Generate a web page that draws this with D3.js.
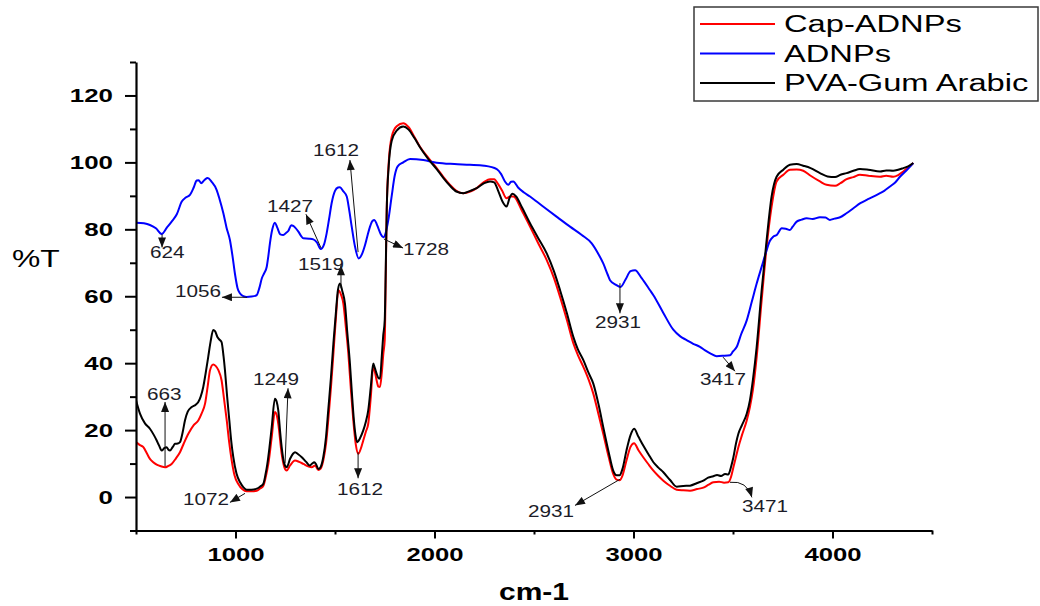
<!DOCTYPE html>
<html>
<head>
<meta charset="utf-8">
<script src="https://cdn.jsdelivr.net/npm/d3@7"></script>
<style>
  body { margin: 0; background: #fff; }
  svg { display: block; }
</style>
</head>
<body>
<script>
// ---------------- DATA ----------------
const seriesNames = ["Cap-ADNPs", "ADNPs", "PVA-Gum Arabic"];
const seriesColors = ["#ff0000", "#0000ff", "#000000"];

const xTickMajor = [1000, 2000, 3000, 4000];
const xTickMinor = [500, 1500, 2500, 3500, 4500];
const yTickMajor = [0, 20, 40, 60, 80, 100, 120];
const yTickMinor = [-10, 10, 30, 50, 70, 90, 110, 130];

// ADNPs (blue) [wavenumber, %T]
const adnps = [[500,82.0],[540,81.8],[570,81.3],[600,80.3],[629,78.6],[655,80.5],[679,82.3],[705,84.5],[730,88.3],[750,89.5],[771,90.3],[790,92.5],[805,94.6],[815,94.7],[827,93.8],[845,94.8],[860,95.3],[880,94.2],[905,91.8],[920,89],[939,84.8],[955,80.5],[972,76.8],[985,72],[997,66.8],[1010,62.5],[1023,60.8],[1040,60],[1056,59.8],[1080,59.9],[1106,60.3],[1120,62.5],[1132,65.3],[1145,67],[1157,68.8],[1165,72],[1173,75.8],[1185,80],[1198,82.0],[1210,80.5],[1225,78.5],[1240,78.3],[1255,79],[1265,79.5],[1280,81.2],[1290,81.0],[1300,80.5],[1316,79.3],[1330,78],[1341,77.3],[1370,77.2],[1391,77.0],[1410,76],[1428,74.1],[1445,75.5],[1458,78.8],[1470,83],[1483,87.8],[1500,91.5],[1515,92.5],[1525,92.6],[1540,91.5],[1559,89.8],[1572,85.5],[1584,80.8],[1600,75],[1619,71.3],[1635,72.5],[1651,75.3],[1665,78.5],[1676,80.8],[1688,82.5],[1698,82.8],[1710,81.5],[1718,80.3],[1730,78.5],[1743,77.6],[1755,79],[1768,82.8],[1785,90],[1800,96],[1815,98.8],[1843,100],[1877,101.0],[1944,100.7],[2011,99.9],[2100,99.5],[2178,99.3],[2250,99],[2313,98.0],[2335,96.5],[2354,94.3],[2371,93.3],[2385,94.2],[2396,94.3],[2420,92.5],[2450,91],[2480,89.8],[2520,88],[2564,86.0],[2620,83.5],[2681,80.8],[2740,78.3],[2790,75.8],[2820,73],[2848,69.8],[2870,66.5],[2882,64.8],[2910,63.5],[2935,62.8],[2960,65],[2985,67.5],[3008,67.8],[3040,65.5],[3083,61.8],[3100,60.3],[3150,55],[3200,50.0],[3235,48],[3267,46.9],[3300,45.8],[3334,44.9],[3360,43.8],[3390,42.8],[3418,42.1],[3450,42.2],[3485,42.4],[3500,43.5],[3519,44.9],[3540,48.5],[3569,52.8],[3595,58.5],[3619,63.8],[3645,69],[3669,73.8],[3685,76.5],[3702,77.8],[3720,78.3],[3745,80.3],[3765,80.2],[3786,79.8],[3800,80.8],[3820,82.3],[3845,82.9],[3870,83.3],[3900,83.1],[3937,83.6],[3965,83.5],[3987,82.8],[4010,83.2],[4038,83.6],[4070,84.8],[4105,86.3],[4140,87.8],[4172,88.8],[4200,89.6],[4239,90.8],[4260,91.5],[4289,92.8],[4315,94],[4339,95.7],[4370,97.5],[4406,99.8]];

// Cap-ADNPs (red)
const capAdnps = [[500,16.4],[520,15.5],[537,14.9],[555,13],[570,11.4],[585,10.5],[604,9.7],[625,9.2],[646,8.9],[660,9.2],[679,9.9],[700,11.5],[721,13.4],[740,16],[763,18.9],[790,21.5],[813,22.9],[830,25],[847,27.9],[860,33],[872,37.9],[888,39.6],[900,39.2],[914,37.9],[930,34.9],[943,29],[956,22.9],[968,16.5],[981,10.9],[995,6.5],[1014,3.9],[1035,2.3],[1056,1.7],[1080,1.7],[1107,1.9],[1125,2.6],[1140,3.4],[1152,6],[1165,9.9],[1182,17.9],[1198,25.4],[1207,24.5],[1215,21.9],[1232,12.9],[1245,9],[1257,7.9],[1275,9.5],[1299,10.9],[1320,10.5],[1341,9.9],[1365,9.2],[1383,8.9],[1400,9.4],[1416,8.1],[1428,8.5],[1441,10.9],[1455,16],[1466,22.9],[1480,33],[1492,42.9],[1505,54],[1517,61.8],[1530,60.5],[1542,57.8],[1555,50.5],[1567,42.9],[1580,32],[1592,22.9],[1605,15.5],[1617,12.9],[1630,14.5],[1642,16.9],[1655,19.5],[1667,21.9],[1680,30],[1692,38.9],[1700,37.5],[1709,34.9],[1718,33],[1726,32.9],[1735,37],[1743,42.9],[1750,47],[1755,66],[1760,86],[1770,100],[1785,107.7],[1810,110.8],[1843,111.7],[1870,110.5],[1900,107.5],[1927,104.7],[1970,101.3],[2011,98.3],[2045,95.6],[2078,93.3],[2110,91.5],[2145,90.8],[2180,91.3],[2212,92.3],[2250,94.2],[2279,95.0],[2300,95.0],[2320,93.5],[2340,91.5],[2362,89.3],[2380,89.8],[2396,89.8],[2440,85.5],[2480,80.8],[2520,76],[2564,70.8],[2600,65.5],[2631,59.8],[2665,53],[2698,45.9],[2720,42.5],[2748,38.9],[2775,35],[2798,30.9],[2825,24.5],[2848,18.9],[2875,12],[2898,6.9],[2915,5.2],[2930,5.0],[2945,6.5],[2965,11],[2985,15],[3003,16.1],[3025,14],[3049,11.9],[3075,9.8],[3100,7.9],[3125,6.3],[3150,4.9],[3185,3.3],[3217,2.2],[3250,2.0],[3284,1.9],[3320,2.4],[3351,2.8],[3375,3.6],[3401,4.4],[3430,4.6],[3455,4.3],[3476,4.4],[3490,6],[3502,8.9],[3515,12],[3527,14.9],[3545,18.5],[3569,22.9],[3585,26.9],[3600,32],[3619,41.9],[3644,58.8],[3669,74.8],[3694,86.8],[3719,94.3],[3753,96.3],[3786,97.8],[3820,97.9],[3853,97.5],[3890,96],[3937,94.3],[3970,93.3],[4013,93.0],[4040,93.8],[4071,95.0],[4105,95.6],[4138,96.3],[4180,96],[4239,95.7],[4270,96],[4305,95.7],[4330,96.2],[4356,97.3],[4380,98.5],[4406,99.8]];

// PVA-Gum Arabic (black)
const pvaGum = [[500,28.9],[520,24.9],[545,22],[570,20.4],[590,18.5],[604,16.9],[615,15.5],[629,13.9],[642,14.6],[654,14.9],[662,14.2],[671,13.9],[685,15],[696,15.9],[710,16],[721,16.4],[735,19.5],[746,22.9],[760,25.5],[780,26.9],[800,27.6],[813,28.4],[825,30],[838,32.9],[850,37],[863,41.9],[875,46.5],[888,49.9],[898,49.5],[909,47.8],[920,47],[930,46.3],[940,42],[947,37.9],[958,30],[969,22.9],[979,16.5],[989,11.9],[1005,7],[1023,4.4],[1040,2.9],[1056,2.2],[1080,2.2],[1107,2.5],[1125,3.2],[1140,4.0],[1150,6.5],[1160,9.9],[1170,14.5],[1182,20.9],[1198,29.4],[1207,28.5],[1215,25.9],[1225,19],[1232,14.9],[1245,10],[1257,8.9],[1275,11.5],[1290,13],[1299,13.4],[1315,12.8],[1333,11.9],[1355,10.5],[1374,9.4],[1385,10],[1396,10.4],[1405,9.8],[1416,8.4],[1428,9],[1441,11.9],[1455,18],[1466,25.9],[1480,36],[1492,45.9],[1505,55.5],[1515,62],[1525,63.8],[1537,61.5],[1550,57.8],[1562,49],[1575,39.9],[1585,31],[1595,22.9],[1603,18.5],[1612,16.4],[1625,17.5],[1642,19.9],[1655,22.5],[1667,25.9],[1680,33],[1692,39.9],[1700,38.6],[1709,36.9],[1718,35.6],[1726,35.4],[1735,42],[1742,48],[1750,53],[1755,68],[1760,86],[1770,99],[1785,106.5],[1810,109.5],[1843,110.7],[1870,109.8],[1900,107.2],[1927,104.5],[1970,100.9],[2011,98.0],[2045,95.3],[2078,93.0],[2110,91.3],[2145,90.8],[2180,91.5],[2212,92.3],[2250,93.8],[2279,94.3],[2300,94.0],[2320,91.5],[2340,88.5],[2362,86.8],[2378,89.5],[2392,90.6],[2410,89.8],[2440,86.5],[2480,81.8],[2520,77.5],[2564,72.8],[2600,67.5],[2631,61.8],[2665,55],[2698,47.8],[2720,44.2],[2748,40.9],[2775,37],[2798,33.9],[2825,27.5],[2848,20.9],[2875,13.5],[2898,7.9],[2915,6.5],[2930,6.5],[2945,8.5],[2965,14],[2985,18.5],[3003,20.4],[3025,18],[3049,15.4],[3075,12.8],[3100,10.4],[3125,8.8],[3150,7.4],[3185,5],[3217,3.1],[3250,3.3],[3284,3.4],[3320,4.2],[3351,4.9],[3375,5.8],[3401,6.2],[3420,6.6],[3440,6.3],[3460,6.9],[3476,6.7],[3490,9],[3502,11.9],[3515,16],[3527,18.9],[3545,21.5],[3569,24.9],[3585,28.9],[3600,35],[3619,44.9],[3644,61.8],[3669,76.8],[3694,89.8],[3719,95.7],[3753,97.8],[3786,99.3],[3820,99.5],[3853,99.0],[3890,98.3],[3937,96.8],[3975,95.8],[4013,95.6],[4040,96.3],[4071,96.8],[4105,97.5],[4138,98.0],[4180,97.8],[4239,97.3],[4270,97.6],[4305,97.5],[4330,97.8],[4356,98.3],[4380,98.8],[4406,99.8]];

// Peak annotations: label, arrow tail [wn,%T], arrow tip [wn,%T], label anchor [wn,%T], curved?
const annLabels = ["624","1056","1427","1519","1612","1728","663","1249","1072","1612","2931","3471","2931","3417"];
const annFrom = [[631,78.5],[1058,59.7],[1430,74.4],[1530,62.4],[1616,73.2],[1746,77.1],[646,9.2],[1249,10.1],[1048,1.1],[1616,13.4],[2932,5.3],[3485,4.4],[2932,63.9],[3450,41.8]];
const annTo = [[631,74.6],[932,59.7],[1354,84.5],[1530,69.3],[1575,100.7],[1842,74.4],[646,28.4],[1264,32.5],[972,-1.6],[1616,5.6],[2706,-2.5],[3595,-0.1],[2932,54.9],[3510,37.6]];
const annText = [[570,71.4],[696,59.8],[1158,85.2],[1314,67.8],[1389,101.9],[1842,72.3],[555,28.9],[1088,33.4],[736,-2.5],[1510,0.5],[2470,-6.0],[3545,-4.5],[2807,50.4],[3334,33.4]];
const annCurved = [false,false,false,false,false,false,false,false,false,false,false,true,false,false];

// ---------------- CHART ----------------
const W = 1040, H = 606;
const FONT = "'Liberation Sans', Arial, Helvetica, sans-serif";
const svg = d3.select("body").append("svg").attr("width", W).attr("height", H);

const x = d3.scaleLinear().domain([500, 4500]).range([136, 932]);
const y = d3.scaleLinear().domain([-10, 130]).range([530.5, 62]);

function stext(parent, px, py, str, o) {
  return parent.append("text")
    .attr("transform", `translate(${px},${py}) scale(${o.sx},1)`)
    .attr("text-anchor", o.anchor || "start")
    .attr("font-family", FONT)
    .attr("font-size", o.size)
    .attr("font-weight", o.weight || "normal")
    .attr("fill", o.fill || "#000")
    .attr("dy", o.dy || 0)
    .text(str);
}

svg.append("defs").append("clipPath").attr("id", "plotclip")
  .append("rect").attr("x", 136).attr("y", 62).attr("width", 796).attr("height", 469);

const marker = svg.select("defs").append("marker")
  .attr("id", "arr").attr("markerUnits", "userSpaceOnUse")
  .attr("viewBox", "0 0 10 8").attr("refX", 10).attr("refY", 4)
  .attr("markerWidth", 11).attr("markerHeight", 8).attr("orient", "auto");
marker.append("path").attr("d", "M0,0 L10,4 L0,8 Z").attr("fill", "#111");

// curves
const line = d3.line().x(d => x(d[0])).y(d => y(d[1])).curve(d3.curveMonotoneX);
const plotG = svg.append("g").attr("clip-path", "url(#plotclip)");
const drawOrder = [[capAdnps, seriesColors[0]], [adnps, seriesColors[1]], [pvaGum, seriesColors[2]]];
drawOrder.forEach(([data, col]) => {
  plotG.append("path").datum(data).attr("d", line)
    .attr("fill", "none").attr("stroke", col).attr("stroke-width", 2)
    .attr("stroke-linejoin", "round");
});

// axes
const yAxisG = svg.append("g").attr("transform", `translate(${x.range()[0]},0)`);
yAxisG.call(d3.axisLeft(y).tickValues(yTickMajor).tickSize(11).tickSizeOuter(0).tickFormat(d3.format("d")));
yAxisG.append("g").call(d3.axisLeft(y).tickValues(yTickMinor).tickSize(6).tickSizeOuter(0).tickFormat(""))
  .select(".domain").remove();
const xAxisG = svg.append("g").attr("transform", `translate(0,${y.range()[0]})`);
xAxisG.call(d3.axisBottom(x).tickValues(xTickMajor).tickSize(8).tickSizeOuter(0).tickFormat(d3.format("d")));
xAxisG.append("g").call(d3.axisBottom(x).tickValues(xTickMinor).tickSize(4).tickSizeOuter(0).tickFormat(""))
  .select(".domain").remove();

svg.selectAll(".domain").attr("stroke", "#000").attr("stroke-width", 2.2);
svg.selectAll(".tick line").attr("stroke", "#000").attr("stroke-width", 2);

const ySx = 1.39;
yAxisG.selectAll(".tick text")
  .attr("x", -23 / ySx).attr("dy", "0.35em")
  .attr("transform", `scale(${ySx},1)`)
  .attr("font-family", FONT).attr("font-size", 18.6).attr("font-weight", "bold").attr("fill", "#000");
xAxisG.selectAll(".tick text")
  .attr("y", 31).attr("dy", 0)
  .attr("transform", `scale(1.38,1)`)
  .attr("font-family", FONT).attr("font-size", 18.6).attr("font-weight", "bold").attr("fill", "#000");

// axis titles
stext(svg, 12, 267, "%T", { sx: 1.3, size: 24.5 });
stext(svg, (x.range()[0] + x.range()[1]) / 2, 600, "cm-1", { sx: 1.25, size: 24, weight: "bold", anchor: "middle" });

// annotations
const annG = svg.append("g");
annLabels.forEach((lab, i) => {
  const [fx, fy] = [x(annFrom[i][0]), y(annFrom[i][1])];
  const [tx, ty] = [x(annTo[i][0]), y(annTo[i][1])];
  let d;
  if (annCurved[i]) {
    const cx = (fx + tx) / 2 + 6, cy = Math.min(fy, ty) - 2;
    d = `M${fx},${fy} Q${cx},${cy} ${tx},${ty}`;
  } else {
    d = `M${fx},${fy} L${tx},${ty}`;
  }
  annG.append("path").attr("d", d).attr("fill", "none")
    .attr("stroke", "#111").attr("stroke-width", 1).attr("marker-end", "url(#arr)");
  stext(annG, x(annText[i][0]), y(annText[i][1]), lab, { sx: 1.27, size: 16.3, fill: "#1c1c28" });
});

// legend
const leg = svg.append("g");
leg.append("rect").attr("x", 694).attr("y", 7).attr("width", 344).attr("height", 94)
  .attr("fill", "#fff").attr("stroke", "#3a3a3a").attr("stroke-width", 1.5);
const rowY = [24, 53.5, 83];
seriesNames.forEach((n, i) => {
  leg.append("line").attr("x1", 700).attr("x2", 775).attr("y1", rowY[i]).attr("y2", rowY[i])
    .attr("stroke", seriesColors[i]).attr("stroke-width", 2);
  stext(leg, 784, rowY[i] + 8, n, { sx: 1.42, size: 23 });
});
</script>
</body>
</html>
